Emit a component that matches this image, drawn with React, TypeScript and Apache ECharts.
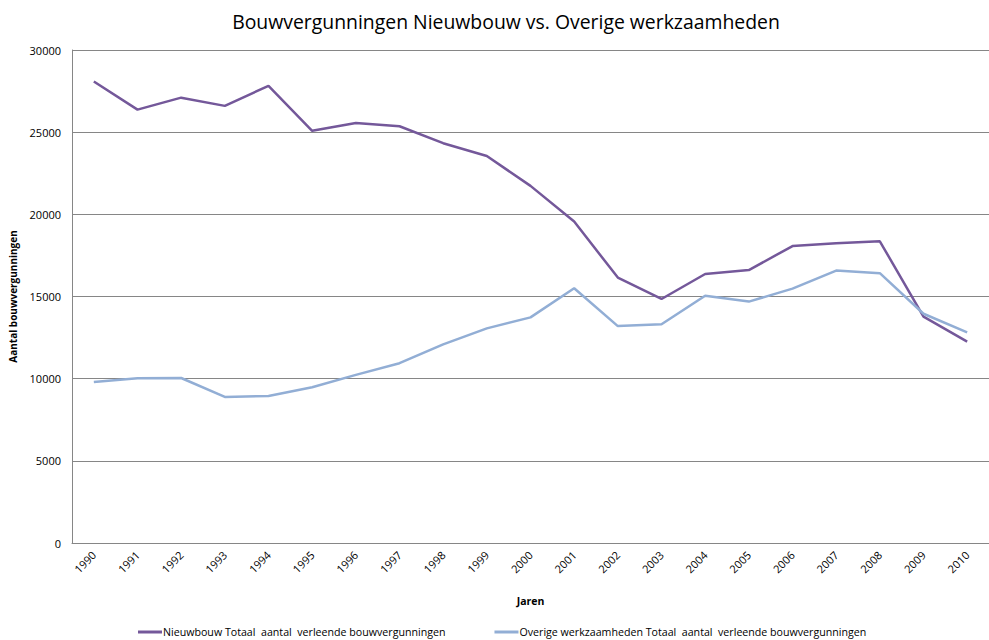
import React, { useEffect, useRef } from "react";
import * as echarts from "echarts";

const years = ["1990","1991","1992","1993","1994","1995","1996","1997","1998","1999","2000","2001","2002","2003","2004","2005","2006","2007","2008","2009","2010"];
const nieuwbouw = [28080, 26370, 27100, 26600, 27820, 25080, 25560, 25360, 24330, 23550, 21730, 19560, 16150, 14850, 16370, 16610, 18070, 18240, 18360, 13780, 12250];
const overige = [9800, 10020, 10040, 8890, 8950, 9480, 10230, 10940, 12090, 13060, 13730, 15500, 13200, 13310, 15050, 14690, 15480, 16580, 16420, 13950, 12820];
const seriesNames = [
  "Nieuwbouw Totaal  aantal  verleende bouwvergunningen",
  "Overige werkzaamheden Totaal  aantal  verleende bouwvergunningen",
];

const FONT = "'Open Sans', 'Noto Sans', sans-serif";

export default function App() {
  const ref = useRef<HTMLDivElement>(null);
  useEffect(() => {
    if (!ref.current) return;
    const chart = echarts.init(ref.current, null, { renderer: "svg" });
    chart.setOption({
      animation: false,
      backgroundColor: "#ffffff",
      textStyle: { fontFamily: FONT },
      title: {
        text: "Bouwvergunningen Nieuwbouw vs. Overige werkzaamheden",
        left: 501,
        top: 7,
        textAlign: "center",
        textStyle: { fontFamily: FONT, fontSize: 19.4, fontWeight: "normal", color: "#000" },
      },
      legend: {
        left: 138,
        top: 625,
        icon: "rect",
        itemWidth: 24,
        itemHeight: 3,
        itemGap: 49,
        padding: 0,
        textStyle: { fontFamily: FONT, fontSize: 10.65, lineHeight: 14, color: "#000", padding: [0, 0, 0, -4] },
        data: seriesNames,
      },
      grid: { left: 71, top: 50, width: 929, height: 493, containLabel: false },
      xAxis: {
        type: "category",
        data: years,
        boundaryGap: true,
        name: "Jaren",
        nameLocation: "middle",
        nameGap: 52,
        nameTextStyle: { fontFamily: FONT, fontSize: 10.5, fontWeight: "bold", color: "#000" },
        axisLine: { lineStyle: { color: "#868686", width: 1 } },
        axisTick: { show: false },
        axisLabel: { rotate: 45, fontSize: 11, color: "#000", margin: 10, fontFamily: FONT },
      },
      yAxis: {
        type: "value",
        min: 0,
        max: 30000,
        interval: 5000,
        name: "Aantal bouwvergunningen",
        nameLocation: "middle",
        nameGap: 54,
        nameRotate: 90,
        nameTextStyle: { fontFamily: FONT, fontSize: 10, fontWeight: "bold", color: "#000" },
        axisLine: { show: true, lineStyle: { color: "#868686", width: 1 } },
        axisTick: { show: false },
        axisLabel: { fontSize: 11, color: "#000", margin: 11, fontFamily: FONT, formatter: (v: number) => String(v) },
        splitLine: { lineStyle: { color: "#868686", width: 1 } },
      },
      series: [
        {
          name: seriesNames[0],
          type: "line",
          data: nieuwbouw,
          showSymbol: false,
          symbol: "none",
          lineStyle: { color: "#74589A", width: 2.5 },
          itemStyle: { color: "#74589A" },
        },
        {
          name: seriesNames[1],
          type: "line",
          data: overige,
          showSymbol: false,
          symbol: "none",
          lineStyle: { color: "#92AED5", width: 2.5 },
          itemStyle: { color: "#92AED5" },
        },
      ],
    });
    return () => chart.dispose();
  }, []);
  return <div ref={ref} style={{ position: "fixed", left: 0, top: 0, width: 989, height: 640 }} />;
}
